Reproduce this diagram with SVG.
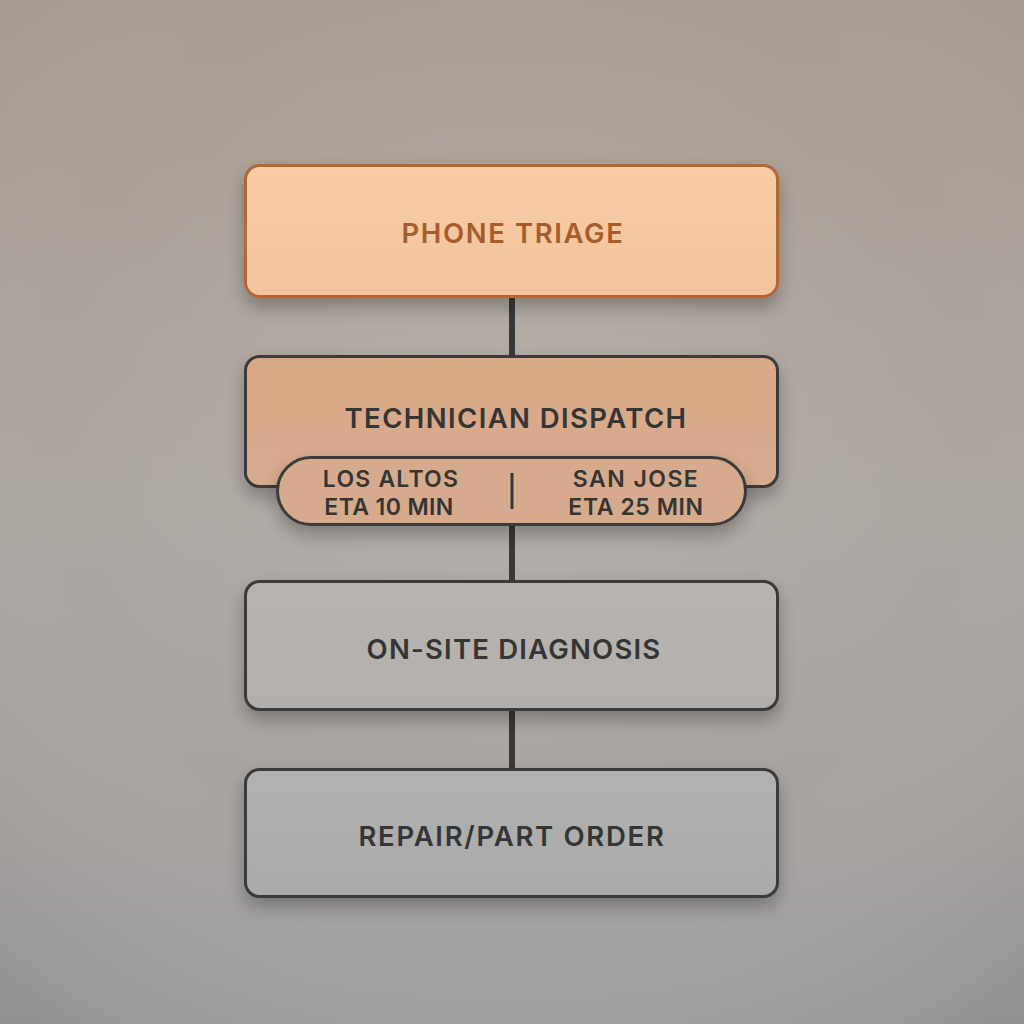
<svg xmlns="http://www.w3.org/2000/svg" width="1024" height="1024" viewBox="0 0 1024 1024">
<defs>
<linearGradient id="bg" x1="0" y1="0" x2="0" y2="1">
<stop offset="0" stop-color="#aa9d93"/>
<stop offset="0.5" stop-color="#ada7a2"/>
<stop offset="1" stop-color="#a2a1a1"/>
</linearGradient>
<radialGradient id="vig" cx="0.5" cy="0.4" r="0.75">
<stop offset="0" stop-color="#ffffff" stop-opacity="0.1"/>
<stop offset="0.6" stop-color="#ffffff" stop-opacity="0"/>
<stop offset="1" stop-color="#000000" stop-opacity="0.08"/>
</radialGradient>
<linearGradient id="g1" x1="0" y1="0" x2="0" y2="1">
<stop offset="0" stop-color="#f8cda3"/>
<stop offset="1" stop-color="#f3c39c"/>
</linearGradient>
<linearGradient id="g2" x1="0" y1="0" x2="0" y2="1">
<stop offset="0" stop-color="#daa886"/>
<stop offset="1" stop-color="#d6ab8e"/>
</linearGradient>
<linearGradient id="g3" x1="0" y1="0" x2="0" y2="1">
<stop offset="0" stop-color="#b9b4af"/>
<stop offset="1" stop-color="#b1afad"/>
</linearGradient>
<linearGradient id="g4" x1="0" y1="0" x2="0" y2="1">
<stop offset="0" stop-color="#b2b1b0"/>
<stop offset="1" stop-color="#aaaaaa"/>
</linearGradient>
<filter id="sh" x="-20%" y="-30%" width="140%" height="170%">
<feGaussianBlur in="SourceAlpha" stdDeviation="9"/>
<feOffset dy="9" result="b"/>
<feComponentTransfer><feFuncA type="linear" slope="0.28"/></feComponentTransfer>
<feMerge><feMergeNode/><feMergeNode in="SourceGraphic"/></feMerge>
</filter>
</defs>
<style>
.box{stroke:#3b3b3b;stroke-width:3}
.t{font-family:Inter,"Noto Sans","Liberation Sans",sans-serif;font-weight:600;text-anchor:middle;fill:#353535}
.big{font-size:27.5px}
.sm{font-size:23px}
.conn{stroke:#383838;stroke-width:6;fill:none}
</style>
<rect width="1024" height="1024" fill="url(#bg)"/>
<rect width="1024" height="1024" fill="url(#vig)"/>
<g id="connectors">
<line class="conn" x1="512" y1="297" x2="512" y2="357"/>
<line class="conn" x1="512" y1="524" x2="512" y2="582"/>
<line class="conn" x1="512" y1="709" x2="512" y2="770"/>
</g>
<g id="phone-triage">
<rect x="245.5" y="165.5" width="532" height="131" rx="14" fill="url(#g1)" stroke="#b0683a" stroke-width="3" filter="url(#sh)"/>
<text class="t big" x="513" y="243" style="fill:#a65d2e;letter-spacing:1.6px">PHONE TRIAGE</text>
</g>
<g id="technician-dispatch">
<rect class="box" x="245.5" y="356.5" width="532" height="130" rx="14" fill="url(#g2)" filter="url(#sh)"/>
<text class="t big" x="516" y="428" style="letter-spacing:1.4px">TECHNICIAN DISPATCH</text>
<g id="eta-pill">
<rect class="box" x="277.5" y="457.5" width="468" height="67" rx="33.5" fill="#d6ab8d" filter="url(#sh)"/>
<line x1="512" y1="473" x2="512" y2="509" stroke="#383838" stroke-width="3"/>
<text class="t sm" x="391" y="487" style="letter-spacing:1.2px">LOS ALTOS</text>
<text class="t sm" x="389" y="515" style="letter-spacing:0.4px">ETA 10 MIN</text>
<text class="t sm" x="636" y="487" style="letter-spacing:1.5px">SAN JOSE</text>
<text class="t sm" x="636" y="515" style="letter-spacing:0.6px">ETA 25 MIN</text>
</g>
</g>
<g id="on-site-diagnosis">
<rect class="box" x="245.5" y="581.5" width="532" height="128" rx="14" fill="url(#g3)" filter="url(#sh)"/>
<text class="t big" x="514" y="659" style="letter-spacing:1.2px">ON-SITE DIAGNOSIS</text>
</g>
<g id="repair-part-order">
<rect class="box" x="245.5" y="769.5" width="532" height="127" rx="14" fill="url(#g4)" filter="url(#sh)"/>
<text class="t big" x="512" y="846" style="letter-spacing:1.7px">REPAIR/PART ORDER</text>
</g>
</svg>
